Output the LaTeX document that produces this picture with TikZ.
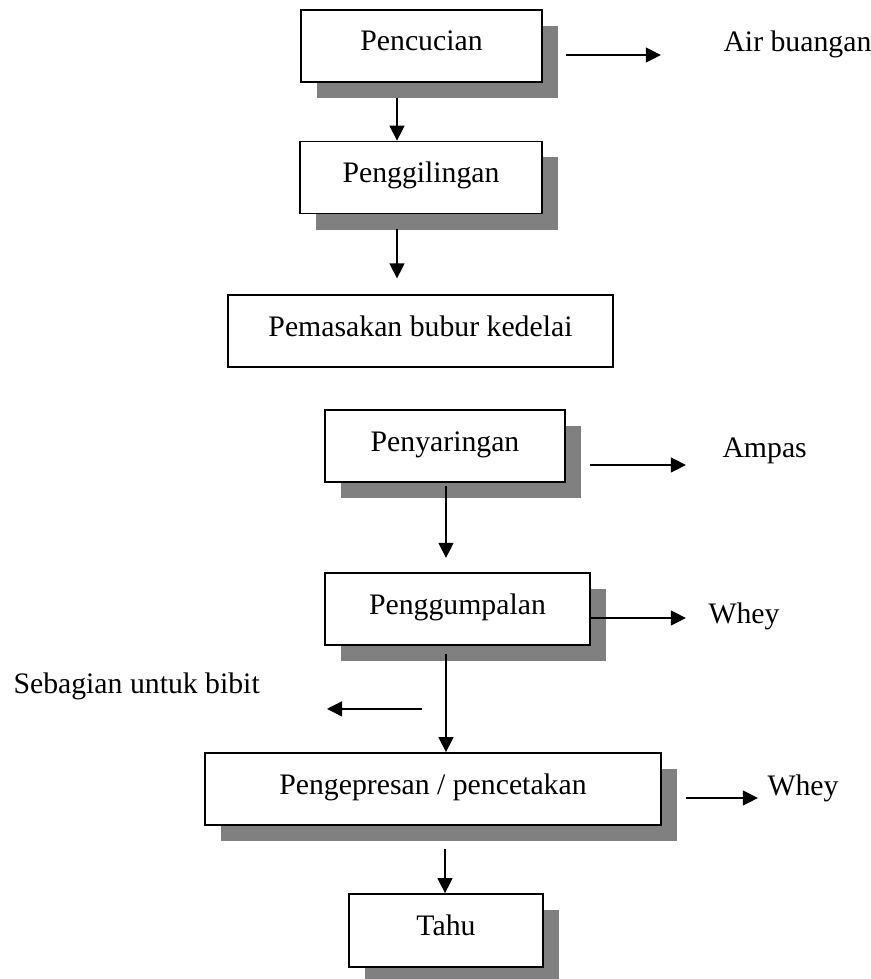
\documentclass[tikz,border=0pt]{standalone}
\usepackage{fontspec}
\setmainfont{Liberation Serif}
\usepackage{tikz}
\usetikzlibrary{arrows.meta,calc,shadows}

\begin{document}
\begin{tikzpicture}[x=0.4pt,y=-0.4pt,
  procbox/.style={draw,line width=0.7pt,fill=white,inner sep=0pt,minimum height=28.8pt,
    text height=8pt,text depth=4pt,font=\fontsize{11.9}{14}\selectfont},
  boxshadow/.style={drop shadow={shadow xshift=6.4pt,shadow yshift=-6.4pt,opacity=1,fill=gray}},
  outlabel/.style={inner sep=0pt,anchor=base west,font=\fontsize{11.9}{14}\selectfont},
  flow/.style={-{Triangle[length=6pt,width=6pt]},line width=0.5pt}]
  \useasboundingbox (0,0) rectangle (871,979);
  \node[procbox,boxshadow,minimum width=96.4pt] (pencucian) at (421.5,46) {Pencucian};
  \node[procbox,boxshadow,minimum width=96.8pt] (penggilingan) at (421,177.5) {Penggilingan};
  \node[procbox,minimum width=154pt] (pemasakan) at (420.5,331) {Pemasakan bubur kedelai};
  \node[procbox,boxshadow,minimum width=96pt] (penyaringan) at (445,446) {Penyaringan};
  \node[procbox,boxshadow,minimum width=106pt] (penggumpalan) at (457.5,609) {Penggumpalan};
  \node[procbox,boxshadow,minimum width=182.4pt] (pengepresan) at (433,789) {Pengepresan / pencetakan};
  \node[procbox,boxshadow,minimum width=77.6pt,minimum height=29.2pt] (tahu) at (446,930.5) {Tahu};
  \node[outlabel] (airbuangan) at (723,52) {Air buangan};
  \node[outlabel] (ampas) at (722,457) {Ampas};
  \node[outlabel] (wheyA) at (708,623) {Whey};
  \node[outlabel] (bibit) at (13,693) {Sebagian untuk bibit};
  \node[outlabel] (wheyB) at (767,795) {Whey};
  \draw[flow] ($(pencucian.east)+(23,9)$) -- ++(95,0);
  \draw[flow] ($(pencucian.south)+(-24.5,15)$) coordinate (t1) -- (t1 |- penggilingan.north);
  \draw[flow] ($(penggilingan.south)+(-24,15)$) -- ++(0,49);
  \draw[flow] ($(penyaringan.east)+(24,19)$) -- ++(96,0);
  \draw[flow] ($(penyaringan.south)+(1,3)$) -- ++(0,72);
  \draw[flow] ($(penggumpalan.east)+(0,9)$) -- ++(95,0);
  \draw[flow] ($(penggumpalan.south)+(-11.5,8)$) coordinate (t2) -- (t2 |- pengepresan.north);
  \draw[flow] ($(penggumpalan.south)+(-35.5,63)$) -- ++(-95,0);
  \draw[flow] ($(pengepresan.east)+(24,9)$) -- ++(72,0);
  \draw[flow] ($(pengepresan.south)+(12,23)$) coordinate (t3) -- (t3 |- tahu.north);
\end{tikzpicture}
\end{document}
